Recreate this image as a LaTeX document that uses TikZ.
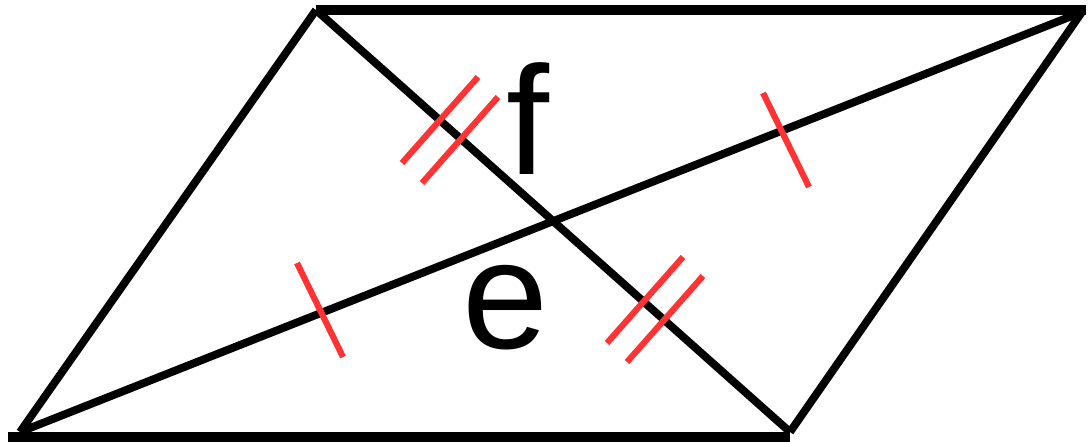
\documentclass[tikz,border=0pt]{standalone}
\usepackage{fontspec}
\setmainfont{Liberation Sans}
\usetikzlibrary{calc}
\definecolor{tickred}{RGB}{255,51,51}

\begin{document}
\begin{tikzpicture}[x=0.02cm, y=-0.02cm,
    edge/.style={line width=4.5pt},
    side/.style={line width=5.5pt},
    tick/.style={draw=tickred, line width=3.5pt},
    lbl/.style={inner sep=0pt, anchor=base, font=\fontsize{88}{88}\selectfont}]
    \useasboundingbox (0,0) rectangle (1088,442);

    \coordinate (A) at (20,432);
    \coordinate (B) at (790,432);
    \coordinate (C) at (1082,12);
    \coordinate (D) at (316,10);

    \draw[side] ($(A)+(-12,5)$) -- ($(B)+(0,5)$);
    \draw[side] (D) -- ($(C)+(4,-2)$);
    \draw[edge] (A) -- (D);
    \draw[edge] (B) -- (C);
    \draw[edge] (A) -- (C);
    \draw[edge] (D) -- (B);

    % single ticks
    \coordinate (s1) at (320,310);
    \coordinate (s2) at (786,140);
    \draw[tick] ($(s1)+(-23,-47)$) -- ($(s1)+(23,47)$);
    \draw[tick] ($(s2)+(-23,-47)$) -- ($(s2)+(23,47)$);

    % double ticks
    \coordinate (d1) at (440,120);
    \coordinate (d2) at (460,140);
    \coordinate (d3) at (645,300);
    \coordinate (d4) at (665,319);
    \foreach \p in {d1,d2,d3,d4}
        \draw[tick] ($(\p)+(-38,43)$) -- ($(\p)+(38,-43)$);

    \node[lbl] (f) at (528,175) {f};
    \node[lbl] (e) at (505,348) {e};
\end{tikzpicture}
\end{document}
